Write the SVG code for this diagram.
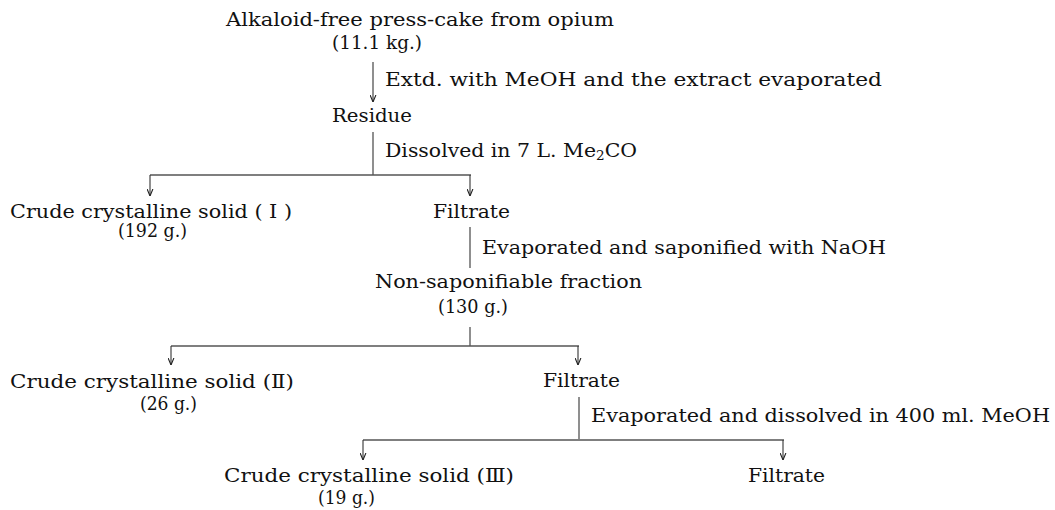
<svg xmlns="http://www.w3.org/2000/svg" width="1055" height="510" viewBox="0 0 1055 510">
<defs>
<marker id="arr" markerWidth="7" markerHeight="7" refX="7" refY="3.5" orient="auto" markerUnits="userSpaceOnUse">
<path d="M0,0.6 L7,3.5 L0,6.4" fill="none" stroke="#222" stroke-width="1.1"/>
</marker>
<style>
text{font-family:"DejaVu Serif","Liberation Serif","Noto Sans CJK JP",serif;font-size:18px;fill:#111}
.ln{stroke:#333;stroke-width:1.1;fill:none}
.hl{stroke:#555;stroke-width:1.6;fill:none}
.ar{stroke:#333;stroke-width:1.1;fill:none;marker-end:url(#arr)}
</style>
</defs>
<rect width="1055" height="510" fill="#fff"/>
<g id="connectors">
<line class="ar" x1="373" y1="62" x2="373" y2="102"/>
<line class="ln" x1="373" y1="132" x2="373" y2="175"/>
<line class="hl" x1="150" y1="175" x2="471" y2="175"/>
<line class="ar" x1="150" y1="175" x2="150" y2="196"/>
<line class="ar" x1="470" y1="175" x2="470" y2="196"/>
<line class="ln" x1="470" y1="227" x2="470" y2="268"/>
<line class="ln" x1="470" y1="327" x2="470" y2="346"/>
<line class="hl" x1="171" y1="346" x2="579" y2="346"/>
<line class="ar" x1="171" y1="346" x2="171" y2="365"/>
<line class="ar" x1="578" y1="346" x2="578" y2="365"/>
<line class="ln" x1="579" y1="397" x2="579" y2="439"/>
<line class="hl" x1="363" y1="440" x2="784" y2="440"/>
<line class="ar" x1="363" y1="440" x2="363" y2="460"/>
<line class="ar" x1="783" y1="440" x2="783" y2="460"/>
</g>
<g id="n-presscake">
<text x="226" y="26" textLength="388" lengthAdjust="spacingAndGlyphs">Alkaloid-free press-cake from opium</text>
<text x="332" y="49" textLength="90" lengthAdjust="spacingAndGlyphs">(11.1 kg.)</text>
</g>
<g id="l-extd">
<text x="385" y="86" textLength="497" lengthAdjust="spacingAndGlyphs">Extd. with MeOH and the extract evaporated</text>
</g>
<g id="n-residue">
<text x="332" y="122" textLength="80" lengthAdjust="spacingAndGlyphs">Residue</text>
</g>
<g id="l-dissolved">
<text x="385" y="157" textLength="252" lengthAdjust="spacingAndGlyphs">Dissolved in 7 L. Me<tspan font-size="12" dy="3">2</tspan><tspan dy="-3">CO</tspan></text>
</g>
<g id="n-solid1">
<text x="10" y="218" textLength="282" lengthAdjust="spacingAndGlyphs">Crude crystalline solid ( I )</text>
<text x="118" y="237" textLength="69" lengthAdjust="spacingAndGlyphs">(192 g.)</text>
</g>
<g id="n-filtrate1">
<text x="433" y="218" textLength="77" lengthAdjust="spacingAndGlyphs">Filtrate</text>
</g>
<g id="l-sapon">
<text x="482" y="254" textLength="404" lengthAdjust="spacingAndGlyphs">Evaporated and saponified with NaOH</text>
</g>
<g id="n-nonsap">
<text x="375" y="288" textLength="267" lengthAdjust="spacingAndGlyphs">Non-saponifiable fraction</text>
<text x="438" y="313" textLength="70" lengthAdjust="spacingAndGlyphs">(130 g.)</text>
</g>
<g id="n-solid2">
<text x="10" y="388" textLength="284" lengthAdjust="spacingAndGlyphs">Crude crystalline solid (Ⅱ)</text>
<text x="140" y="410" textLength="57" lengthAdjust="spacingAndGlyphs">(26 g.)</text>
</g>
<g id="n-filtrate2">
<text x="543" y="387" textLength="77" lengthAdjust="spacingAndGlyphs">Filtrate</text>
</g>
<g id="l-meoh">
<text x="591" y="422" textLength="459" lengthAdjust="spacingAndGlyphs">Evaporated and dissolved in 400 ml. MeOH</text>
</g>
<g id="n-solid3">
<text x="224" y="482" textLength="290" lengthAdjust="spacingAndGlyphs">Crude crystalline solid (Ⅲ)</text>
<text x="318" y="504" textLength="57" lengthAdjust="spacingAndGlyphs">(19 g.)</text>
</g>
<g id="n-filtrate3">
<text x="748" y="482" textLength="77" lengthAdjust="spacingAndGlyphs">Filtrate</text>
</g>
</svg>
